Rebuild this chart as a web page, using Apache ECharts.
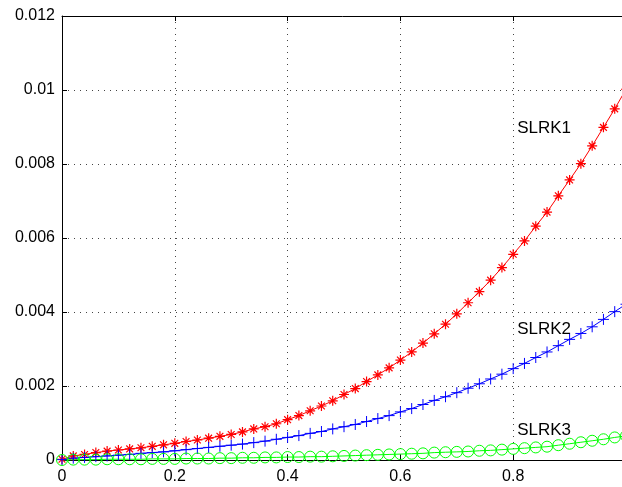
<!DOCTYPE html>
<html>
<head>
<meta charset="utf-8">
<script src="https://cdn.jsdelivr.net/npm/echarts@6/dist/echarts.min.js"></script>
<style>
  html, body { margin: 0; padding: 0; background: #fff; }
  #main { width: 622px; height: 487px; }
</style>
</head>
<body>
<div id="main"></div>
<script>
// x steps 0, 0.02, ... 1.0
var xs = [];
for (var i = 0; i <= 50; i++) xs.push(+(i * 0.02).toFixed(2));

// errors, in units of 1e-3
var slrk1 = [0.02, 0.11, 0.15, 0.20, 0.24, 0.27, 0.30, 0.33, 0.37, 0.41,
  0.45, 0.50, 0.54, 0.59, 0.64, 0.69, 0.76, 0.84, 0.90, 0.98,
  1.09, 1.20, 1.33, 1.46, 1.60, 1.77, 1.93, 2.12, 2.30, 2.49,
  2.70, 2.92, 3.16, 3.41, 3.67, 3.95, 4.25, 4.55, 4.86, 5.20,
  5.56, 5.92, 6.32, 6.70, 7.14, 7.57, 8.01, 8.49, 8.99, 9.49, 10.02];
var slrk2 = [0.01, 0.05, 0.07, 0.09, 0.11, 0.13, 0.15, 0.18, 0.20, 0.22,
  0.25, 0.28, 0.31, 0.34, 0.37, 0.40, 0.43, 0.47, 0.51, 0.56,
  0.61, 0.66, 0.72, 0.77, 0.84, 0.90, 0.96, 1.04, 1.12, 1.20,
  1.30, 1.39, 1.50, 1.61, 1.71, 1.82, 1.94, 2.06, 2.19, 2.32,
  2.47, 2.61, 2.77, 2.92, 3.09, 3.26, 3.42, 3.60, 3.80, 4.01, 4.21];
var slrk3 = [0.00, 0.01, 0.01, 0.01, 0.02, 0.02, 0.02, 0.02, 0.03, 0.03,
  0.03, 0.04, 0.04, 0.04, 0.05, 0.05, 0.06, 0.06, 0.07, 0.07,
  0.08, 0.08, 0.09, 0.09, 0.10, 0.11, 0.12, 0.13, 0.14, 0.15,
  0.16, 0.17, 0.18, 0.20, 0.21, 0.22, 0.23, 0.25, 0.26, 0.28,
  0.30, 0.32, 0.34, 0.36, 0.40, 0.44, 0.48, 0.52, 0.56, 0.61, 0.65];

// text labels placed in data coordinates [x, y]
var labels = [
  { text: 'SLRK1', at: [0.807, 0.00896] },
  { text: 'SLRK2', at: [0.807, 0.00353] },
  { text: 'SLRK3', at: [0.807, 0.00081] }
];

var font = 'Liberation Sans, Arial, Helvetica, sans-serif';
var asterisk = 'path://M5 0L5 10M0 5L10 5M1.6 1.6L8.4 8.4M1.6 8.4L8.4 1.6';
var plus = 'path://M5 0L5 10M0 5L10 5';

function pairs(vals) {
  return xs.map(function (x, i) { return [x, vals[i] / 1000]; });
}

var grid = { color: '#444', width: 1, type: [1, 5] };

var chart = echarts.init(document.getElementById('main'));
chart.setOption({
  animation: false,
  backgroundColor: '#fff',
  textStyle: { fontFamily: font },
  grid: { left: 62, top: 16, width: 564, height: 444, show: false,
    containLabel: false, outerBoundsMode: 'none' },
  xAxis: [{
    type: 'value', min: 0, max: 1, interval: 0.2,
    axisLine: { lineStyle: { color: '#000', width: 1 } },
    axisTick: { inside: true, length: 5, lineStyle: { color: '#000' } },
    axisLabel: {
      color: '#000', fontSize: 16, margin: 9, fontFamily: font,
      formatter: function (v) { return v >= 1 ? '' : String(+v.toFixed(1)); }
    },
    splitLine: { show: true, lineStyle: grid }
  }, {
    type: 'value', position: 'top', min: 0, max: 1, interval: 0.2,
    axisLine: { show: true, lineStyle: { color: '#000', width: 1 } },
    axisTick: { show: true, inside: true, length: 5, lineStyle: { color: '#000' } },
    axisLabel: { show: false },
    splitLine: { show: false }
  }],
  yAxis: {
    type: 'value', min: 0, max: 0.012, interval: 0.002,
    axisLine: { show: true, lineStyle: { color: '#000', width: 1 } },
    axisTick: { show: true, inside: true, length: 5, lineStyle: { color: '#000' } },
    axisLabel: {
      color: '#000', fontSize: 16, margin: 7, fontFamily: font,
      formatter: function (v) { return String(+v.toFixed(3)); }
    },
    splitLine: { show: true, lineStyle: grid }
  },
  series: [{
    name: 'SLRK1', type: 'line', data: pairs(slrk1), clip: false,
    symbol: asterisk, symbolSize: 10, showAllSymbol: true,
    lineStyle: { color: '#ff0000', width: 1 },
    itemStyle: { color: 'rgba(0,0,0,0)', borderColor: '#ff0000', borderWidth: 1.2 }
  }, {
    name: 'SLRK2', type: 'line', data: pairs(slrk2), clip: false,
    symbol: plus, symbolSize: 11, showAllSymbol: true,
    lineStyle: { color: '#0000ff', width: 1 },
    itemStyle: { color: 'rgba(0,0,0,0)', borderColor: '#0000ff', borderWidth: 1 }
  }, {
    name: 'SLRK3', type: 'line', data: pairs(slrk3), clip: false,
    symbol: 'circle', symbolSize: 11, showAllSymbol: true,
    lineStyle: { color: '#00ff00', width: 1 },
    itemStyle: { color: 'rgba(0,0,0,0)', borderColor: '#00ff00', borderWidth: 1 }
  }]
});

chart.setOption({
  graphic: labels.map(function (l) {
    var p = chart.convertToPixel({ xAxisIndex: 0, yAxisIndex: 0 }, l.at);
    return {
      type: 'text', x: p[0], y: p[1],
      style: { text: l.text, fill: '#000', font: '17px ' + font, verticalAlign: 'middle' }
    };
  })
});
</script>
</body>
</html>
